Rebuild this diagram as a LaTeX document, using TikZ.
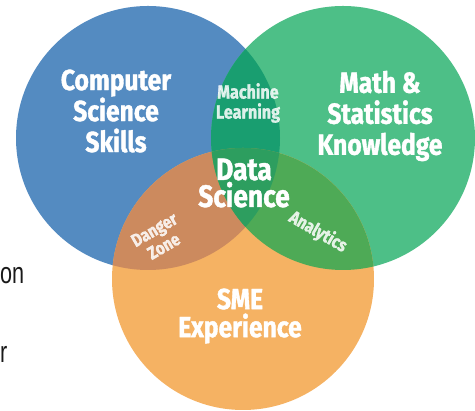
\documentclass[tikz,border=0pt]{standalone}
\usepackage{fontspec}
\newfontfamily\vennfont[FakeStretch=0.85,BoldFeatures={FakeBold=1.3}]{Fira Sans}
\newfontfamily\slidefont[FakeStretch=0.72]{Liberation Sans}
\definecolor{csblue}{RGB}{84,139,193}
\definecolor{msgreen}{RGB}{77,191,135}
\definecolor{smeorange}{RGB}{245,178,99}
\definecolor{mlteal}{RGB}{25,158,112}
\definecolor{dzbrown}{RGB}{204,138,94}
\definecolor{angreen}{RGB}{78,170,86}
\definecolor{dsgreen}{RGB}{45,158,95}
\begin{document}
\begin{tikzpicture}[x=1pt,y=1pt,
    big/.style={text=white,align=center,font=\vennfont\bfseries\fontsize{29}{31}\selectfont},
    small/.style={text=white,text opacity=0.85,align=center,font=\vennfont\bfseries\fontsize{18}{19}\selectfont},
    slide/.style={text=black!90,inner sep=0pt,anchor=base west}]
            \useasboundingbox (0,0) rectangle (475,411);
            \coordinate (CS) at (148,273);
            \coordinate (MS) at (343,273);
            \coordinate (SME) at (243,132);

            \fill[csblue] (CS) circle (132);
            \fill[msgreen] (MS) circle (132);
            \fill[smeorange] (SME) circle (131);
            \begin{scope}
              \clip (CS) circle (132);
              \fill[mlteal] (MS) circle (132);
              \fill[dzbrown] (SME) circle (131);
            \end{scope}
            \begin{scope}
              \clip (MS) circle (132);
              \fill[angreen] (SME) circle (131);
              \clip (CS) circle (132);
              \fill[dsgreen] (SME) circle (131);
            \end{scope}

            \node[big] (A) at (116,300) {Computer\\Science\\Skills};
            \node[big] (B) at (380,295) {Math \&\\Statistics\\Knowledge};
            \node[big,font=\vennfont\bfseries\fontsize{29}{28}\selectfont] (C) at (240,95) {SME\\Experience};
            \node[big,font=\vennfont\bfseries\fontsize{31}{27}\selectfont] (D) at (244,228) {Data\\Science};
            \node[small,font=\vennfont\bfseries\fontsize{19}{20}\selectfont] (E) at (248,308) {Machine\\Learning};
            \node[small,rotate=30] (F) at (159,173) {Danger\\Zone};
            \node[small,rotate=-30] (G) at (318,179) {Analytics};

            \node[slide,font=\slidefont\fontsize{30}{30}\selectfont] (S) at (0,127) {on};
            \node[slide,font=\slidefont\fontsize{30}{30}\selectfont] (T) at (0,48) {r};
          \end{tikzpicture}
\end{document}
